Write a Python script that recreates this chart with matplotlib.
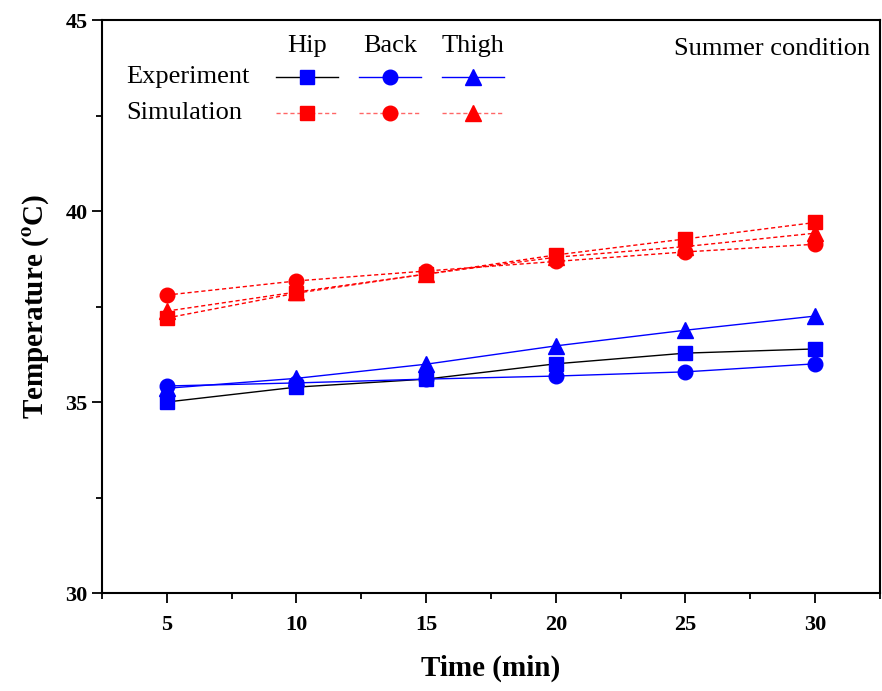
import matplotlib.pyplot as plt
from matplotlib.lines import Line2D
from matplotlib.ticker import MultipleLocator

plt.rcParams['font.family'] = 'Liberation Serif'
plt.rcParams['mathtext.fontset'] = 'stix'

# time points (min)
time = [5, 10, 15, 20, 25, 30]

# measured skin temperatures
exp_hip = [35.0, 35.39, 35.6, 36.0, 36.28, 36.39]
exp_back = [35.42, 35.5, 35.6, 35.68, 35.79, 36.0]
exp_thigh = [35.36, 35.62, 35.99, 36.47, 36.88, 37.25]

# simulated skin temperatures
sim_hip = [37.2, 37.85, 38.35, 38.85, 39.27, 39.7]
sim_back = [37.8, 38.17, 38.43, 38.68, 38.93, 39.13]
sim_thigh = [37.38, 37.88, 38.35, 38.79, 39.07, 39.42]

parts = ['Hip', 'Back', 'Thigh']
markers = ['s', 'o', '^']
msizes = [10, 10.5, 11.5]

fig = plt.figure(figsize=(8.82, 6.91), dpi=100)
ax = fig.add_axes([0.1156, 0.1418, 0.8821, 0.8292])

exp_lines = ['black', 'blue', 'blue']
for y, m, ms, lc in zip([exp_hip, exp_back, exp_thigh], markers, msizes, exp_lines):
    ax.plot(time, y, color=lc, lw=1, marker=m, ms=ms, mfc='blue', mec='blue')
for y, m, ms in zip([sim_hip, sim_back, sim_thigh], markers, msizes):
    ax.plot(time, y, color='red', lw=1, ls=(0, (3, 2)), marker=m, ms=ms,
            mfc='red', mec='red')

ax.set_xlim(2.5, 32.5)
ax.set_ylim(30, 45)
ax.xaxis.set_major_locator(MultipleLocator(5))
ax.xaxis.set_minor_locator(MultipleLocator(2.5))
ax.yaxis.set_major_locator(MultipleLocator(5))
ax.yaxis.set_minor_locator(MultipleLocator(2.5))
ax.tick_params(which='major', direction='out', length=7, width=1.3,
               labelsize=16, top=False, right=False)
ax.tick_params(axis='x', which='major', pad=9)
ax.tick_params(which='minor', direction='out', length=4, width=1.3,
               top=False, right=False)
for lab in ax.get_xticklabels() + ax.get_yticklabels():
    lab.set_fontweight('bold')
for s in ax.spines.values():
    s.set_linewidth(1.5)

ax.set_xlabel('Time (min)', fontsize=21, fontweight='bold', labelpad=14)
ax.set_ylabel(r'Temperature ($^{\mathbf{o}}$C)', fontsize=21,
              fontweight='bold', labelpad=10)

# hand-built legend grid
cols = [0.2635, 0.3702, 0.4769]
half = 0.0398
rows = [0.9005, 0.8377]
for x, name in zip(cols, parts):
    ax.text(x, 0.9546, name, transform=ax.transAxes, ha='center',
            va='center', fontsize=19)
ax.text(0.0308, rows[0], 'Experiment', transform=ax.transAxes,
        va='center', fontsize=19)
ax.text(0.0308, rows[1], 'Simulation', transform=ax.transAxes,
        va='center', fontsize=19)
for x, m, ms, lc in zip(cols, markers, msizes, exp_lines):
    ax.add_line(Line2D([x - half, x + half], [rows[0]] * 2, color=lc, lw=1,
                       transform=ax.transAxes))
    ax.add_line(Line2D([x], [rows[0]], marker=m, ms=ms, color='blue',
                       transform=ax.transAxes))
    ax.add_line(Line2D([x - half, x + half], [rows[1]] * 2, color='#ff6666',
                       lw=1, ls=(0, (3, 2)), transform=ax.transAxes))
    ax.add_line(Line2D([x], [rows[1]], marker=m, ms=ms, color='red',
                       transform=ax.transAxes))

ax.text(0.987, 0.949, 'Summer condition', transform=ax.transAxes,
        ha='right', va='center', fontsize=19)

fig.savefig('out.png', dpi=100)
